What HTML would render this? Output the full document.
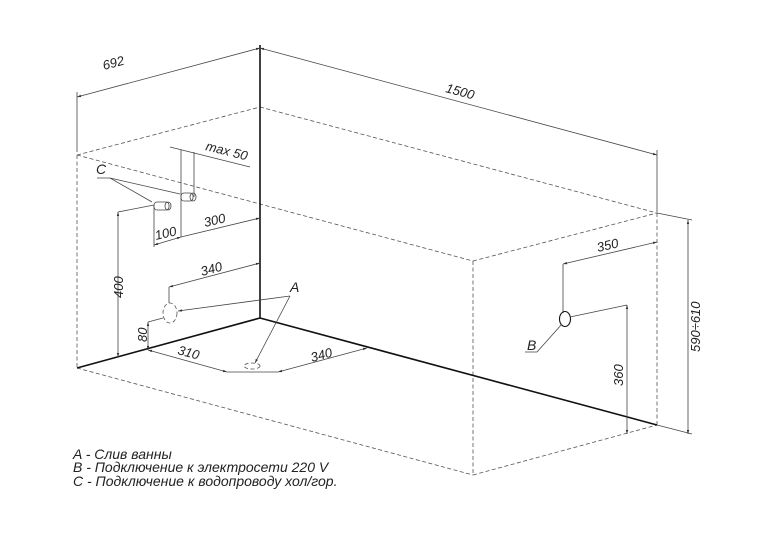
<!DOCTYPE html>
<html><head><meta charset="utf-8"><style>
html,body{margin:0;padding:0;background:#fff}
svg{display:block}
text{font-family:"Liberation Sans","DejaVu Sans",sans-serif;font-style:italic;fill:#222}
</style></head><body>
<svg width="762" height="536" viewBox="0 0 762 536" xmlns="http://www.w3.org/2000/svg">
<defs>
<marker id="a" viewBox="0 0 10 10" refX="10" refY="5" markerWidth="7" markerHeight="5" orient="auto-start-reverse"><path d="M0,2 L10,5 L0,8z" fill="#333"/></marker>
</defs>
<g fill="none" stroke="#555" stroke-width="0.8" stroke-dasharray="4 2.5">
<line x1="77" y1="155" x2="260" y2="107"/>
<line x1="260" y1="107" x2="657" y2="213"/>
<line x1="77" y1="155" x2="473" y2="261"/>
<line x1="473" y1="261" x2="657" y2="213"/>
<line x1="77" y1="155" x2="77" y2="368"/>
<line x1="473" y1="261" x2="473" y2="475"/>
<line x1="657" y1="213" x2="657" y2="425"/>
<line x1="77" y1="368" x2="473" y2="475"/>
<line x1="473" y1="475" x2="657" y2="425"/>
<ellipse cx="170" cy="313" rx="7" ry="10"/>
<ellipse cx="252" cy="366" rx="8" ry="3"/>
</g>
<g fill="none" stroke="#111" stroke-width="1.6">
<line x1="77" y1="368" x2="260" y2="318"/>
<line x1="260" y1="318" x2="657" y2="425"/>
<line x1="260" y1="45" x2="260" y2="318"/>
</g>
<g fill="none" stroke="#444" stroke-width="0.8">
<line x1="77" y1="92" x2="77" y2="152"/>
<line x1="657" y1="150" x2="657" y2="212"/>
<line x1="77" y1="97" x2="260" y2="48" marker-start="url(#a)" marker-end="url(#a)"/>
<line x1="260" y1="48" x2="657" y2="155" marker-start="url(#a)" marker-end="url(#a)"/>
<line x1="657" y1="213" x2="692" y2="220"/>
<line x1="657" y1="425" x2="692" y2="434"/>
<line x1="688" y1="220" x2="688" y2="434" marker-start="url(#a)" marker-end="url(#a)"/>
<line x1="563" y1="264" x2="657" y2="242" marker-start="url(#a)" marker-end="url(#a)"/>
<line x1="563" y1="264" x2="563" y2="313"/>
<ellipse cx="565" cy="319" rx="5.5" ry="7.5" stroke="#111" stroke-width="1.1"/>
<line x1="570" y1="317" x2="627" y2="305"/>
<line x1="627" y1="305" x2="627" y2="434" marker-start="url(#a)" marker-end="url(#a)"/>
<polyline points="525,352 537,352 562,324"/>
<line x1="170" y1="147" x2="250" y2="167"/>
<line x1="181" y1="150" x2="181" y2="237"/>
<line x1="194" y1="152" x2="194" y2="197"/>
<polyline points="97,178 110,178 152,202"/>
<line x1="110" y1="178" x2="180" y2="194"/>
<rect x="181" y="193" width="12" height="8" rx="3"/>
<ellipse cx="193" cy="197" rx="3" ry="4"/>
<rect x="154" y="202" width="15" height="8" rx="3"/>
<ellipse cx="168" cy="206" rx="3" ry="4"/>
<line x1="118" y1="212" x2="154" y2="205"/>
<line x1="118" y1="212" x2="118" y2="357" marker-start="url(#a)" marker-end="url(#a)"/>
<line x1="154" y1="205" x2="154" y2="247"/>
<line x1="154" y1="245" x2="181" y2="237" marker-start="url(#a)" marker-end="url(#a)"/>
<line x1="181" y1="237" x2="260" y2="218" marker-end="url(#a)"/>
<line x1="169" y1="287" x2="260" y2="263" marker-start="url(#a)" marker-end="url(#a)"/>
<line x1="169" y1="287" x2="169" y2="303"/>
<line x1="178" y1="311" x2="290" y2="296" marker-start="url(#a)"/>
<line x1="290" y1="296" x2="255" y2="363" marker-end="url(#a)"/>
<line x1="148" y1="322" x2="163" y2="318"/>
<line x1="148" y1="322" x2="148" y2="350" marker-start="url(#a)" marker-end="url(#a)"/>
<line x1="148" y1="350" x2="227" y2="372" marker-start="url(#a)" marker-end="url(#a)"/>
<line x1="227" y1="372" x2="278" y2="372"/>
<line x1="278" y1="372" x2="367" y2="348" marker-start="url(#a)" marker-end="url(#a)"/>
</g>
<g font-size="13">
<text transform="translate(104,70) rotate(-15)">692</text>
<text transform="translate(445,92) rotate(15)">1500</text>
<text transform="translate(700,352) rotate(-90)">590÷610</text>
<text transform="translate(598,252) rotate(-13)">350</text>
<text transform="translate(623,386) rotate(-90)">360</text>
<text x="527" y="350" font-size="14">B</text>
<text transform="translate(205,150) rotate(14)">max  50</text>
<text x="96" y="174" font-size="14">C</text>
<text transform="translate(123,298) rotate(-90)">400</text>
<text transform="translate(156,240) rotate(-13)">100</text>
<text transform="translate(205,227) rotate(-13)">300</text>
<text transform="translate(202,276) rotate(-15)">340</text>
<text x="290" y="292" font-size="14">A</text>
<text transform="translate(147,342) rotate(-90)">80</text>
<text transform="translate(177,354) rotate(15)">310</text>
<text transform="translate(312,362) rotate(-15)">340</text>
</g>
<g font-size="14">
<text x="73" y="459">A - Слив ванны</text>
<text x="73" y="472">B - Подключение к электросети 220 V</text>
<text x="73" y="486">C - Подключение к водопроводу хол/гор.</text>
</g>
</svg>
</body></html>
